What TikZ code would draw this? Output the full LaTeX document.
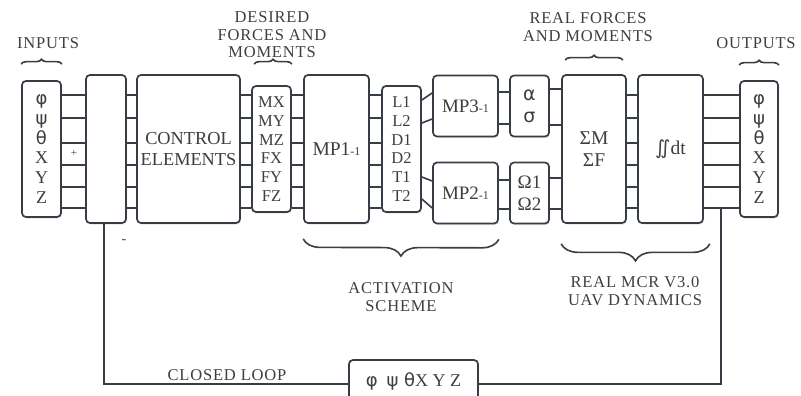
\documentclass[tikz,border=0pt]{standalone}
\usepackage{fontspec}
\setmainfont{Liberation Serif}
\newfontfamily\grk{DejaVu Sans}
\newfontfamily\capfont[LetterSpace=5]{Liberation Serif}
\usepackage{tikz}
\usetikzlibrary{decorations.pathreplacing, shadows}
\definecolor{linedraw}{HTML}{383D45}
\definecolor{txt}{HTML}{3E3E3E}
\tikzset{
  blk/.style={rectangle, rounded corners=4pt, draw=linedraw, line width=1.7pt, fill=white, align=center, text=txt, inner sep=0pt,
    drop shadow={opacity=0.22, shadow xshift=1pt, shadow yshift=-1.5pt}},
  tall/.style={blk, minimum width=39pt, minimum height=136pt, font=\fontsize{18}{19.8}\selectfont},
  mid/.style={blk, minimum width=39pt, minimum height=126pt, font=\fontsize{16.5}{18.8}\selectfont},
  big/.style={blk, minimum width=65pt, minimum height=148pt, font=\fontsize{19.5}{22}\selectfont},
  half/.style={blk, minimum width=65pt, minimum height=61pt, font=\fontsize{19}{22}\selectfont},
  small/.style={blk, minimum width=39pt, minimum height=61pt, font=\fontsize{19}{22}\selectfont},
  caplab/.style={font=\capfont\fontsize{16.5}{17.5}\selectfont, text=txt, align=center},
  wire/.style={draw=linedraw, line width=1.6pt},
  brace/.style={decorate, decoration={brace, amplitude=5pt}, draw=linedraw, line width=1.6pt},
  bigbrace/.style={decorate, decoration={brace, amplitude=17pt}, draw=linedraw, line width=1.6pt},
}

\begin{document}
\begin{tikzpicture}[x=1pt, y=-1pt]
  \useasboundingbox (0,0) rectangle (801,396);
  % blocks
  \node[tall] (inp) at (41.5,149) {{\grk φ}\\{\grk ψ}\\{\grk θ}\\X\\Y\\Z};
  \node[big, minimum width=40pt] (sum) at (106,149) {};
  \node[big, minimum width=103pt, font=\fontsize{18.3}{21.5}\selectfont] (ctrl) at (188.5,149) {CONTROL\\ELEMENTS};
  \node[mid] (dfm) at (271.5,149) {MX\\MY\\MZ\\FX\\FY\\FZ};
  \node[big] (mp1) at (336.5,149) {MP1{\fontsize{12}{12}\selectfont -1}};
  \node[mid] (act) at (401.5,149) {L1\\L2\\D1\\D2\\T1\\T2};
  \node[half] (mp3) at (465.5,106) {MP3{\fontsize{12}{12}\selectfont -1}};
  \node[half] (mp2) at (465.5,193) {MP2{\fontsize{12}{12}\selectfont -1}};
  \node[small] (ang) at (529.5,106) {{\grk α}\\{\grk σ}};
  \node[small] (rot) at (529.5,193) {Ω1\\Ω2};
  \node[big, minimum width=64pt] (dyn) at (594,149) {ΣM\\ΣF};
  \node[big] (intg) at (670.5,149) {{\grk ∬}dt};
  \node[tall, minimum width=38pt] (outp) at (759,149) {{\grk φ}\\{\grk ψ}\\{\grk θ}\\X\\Y\\Z};
  \node[blk, minimum width=129pt, minimum height=48pt, font=\fontsize{18}{20}\selectfont] (fb) at (413.5,384)
    {\raisebox{8pt}{{\grk φ\enspace ψ θ}X Y Z}};

  % six-signal buses
  \foreach \y in {95,118,143,165,187,208} {
    \draw[wire] (inp.east |- 0,\y) -- (sum.west |- 0,\y);
    \draw[wire] (sum.east |- 0,\y) -- (ctrl.west |- 0,\y);
    \draw[wire] (ctrl.east |- 0,\y) -- (dfm.west |- 0,\y);
    \draw[wire] (dfm.east |- 0,\y) -- (mp1.west |- 0,\y);
    \draw[wire] (mp1.east |- 0,\y) -- (act.west |- 0,\y);
    \draw[wire] (dyn.east |- 0,\y) -- (intg.west |- 0,\y);
    \draw[wire] (intg.east |- 0,\y) -- (outp.west |- 0,\y);
  }
  \draw[wire] (act.east |- 0,100) -- (mp3.west |- 0,93);
  \draw[wire] (act.east |- 0,123) -- (mp3.west |- 0,119);
  \draw[wire] (act.east |- 0,177) -- (mp2.west |- 0,181);
  \draw[wire] (act.east |- 0,199) -- (mp2.west |- 0,208);
  \draw[wire] (mp3.east |- 0,92) -- (ang.west |- 0,92);
  \draw[wire] (mp3.east |- 0,124) -- (ang.west |- 0,124);
  \draw[wire] (mp2.east |- 0,180) -- (rot.west |- 0,180);
  \draw[wire] (mp2.east |- 0,209) -- (rot.west |- 0,209);
  \draw[wire] (ang.east |- 0,89) -- (dyn.west |- 0,89);
  \draw[wire] (ang.east |- 0,125) -- (dyn.west |- 0,125);
  \draw[wire] (rot.east |- 0,178) -- (dyn.west |- 0,178);
  \draw[wire] (rot.east |- 0,209) -- (dyn.west |- 0,209);

  % closed loop
  \coordinate (tap) at (721,208);
  \draw[wire] (tap) |- (fb.east);
  \draw[wire] ([xshift=-2pt]sum.south) |- (fb.west);
  \node[font=\fontsize{11}{11}\selectfont, text=txt] (plus) at (74,153) {+};
  \node[font=\fontsize{14}{14}\selectfont, text=txt] (minus) at (124,242) {-};

  % braces and captions
  \draw[brace] ([yshift=16pt]inp.north west) -- ([yshift=16pt]inp.north east);
  \draw[brace] ([yshift=21pt, xshift=3pt]dfm.north west) -- ([yshift=21pt]dfm.north east);
  \draw[brace] ([yshift=14pt, xshift=4pt]dyn.north west) -- ([yshift=14pt, xshift=-4pt]dyn.north east);
  \draw[brace] ([yshift=15pt]outp.north west) -- ([yshift=15pt]outp.north east);
  \draw[bigbrace] ([yshift=-15pt]mp2.south east) -- ([yshift=-15pt]mp1.south west);
  \draw[bigbrace] ([yshift=-20pt, xshift=6pt]intg.south east) -- ([yshift=-20pt]dyn.south west);

  \node[caplab] (inlab) at (48,43) {INPUTS};
  \node[caplab] (dfmlab) at (272,35) {DESIRED\\FORCES AND\\MOMENTS};
  \node[caplab] (rfmlab) at (588,27) {REAL FORCES\\AND MOMENTS};
  \node[caplab] (outlab) at (756,43) {OUTPUTS};
  \node[caplab] (actlab) at (401,297) {ACTIVATION\\SCHEME};
  \node[caplab] (dynlab) at (635,291) {REAL MCR V3.0\\UAV DYNAMICS};
  \node[caplab] (looplab) at (227,375) {CLOSED LOOP};
\end{tikzpicture}
\end{document}
